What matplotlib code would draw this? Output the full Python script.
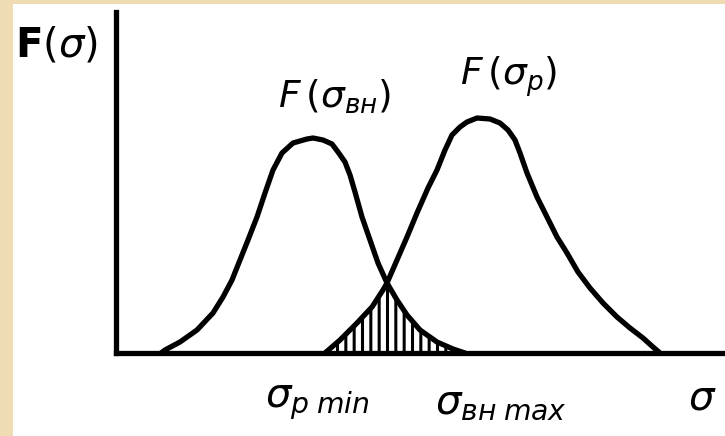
import matplotlib.pyplot as plt
import numpy as np
from matplotlib.patches import Polygon, Rectangle

# stress axis (sigma) and density F(sigma)
load_sigma = [45, 49, 64, 81, 97, 107, 116, 124, 132, 141, 149, 157, 166,
              177, 191, 197, 207, 216, 222, 229, 234, 239, 246, 254, 262,
              271, 281, 291, 304, 321, 337, 349]
load_f = [0, 3, 11, 23, 40, 56, 73, 93, 113, 136, 160, 183, 200,
          210, 214, 215, 213, 209, 201, 191, 178, 161, 136, 113, 90,
          70, 53, 38, 23, 11, 4, 0]

strength_sigma = [209, 224, 241, 256, 267, 271, 281, 291, 301, 312, 321, 329,
                  336, 344, 351, 361, 374, 384, 392, 399, 404, 411, 421, 431,
                  441, 451, 462, 474, 487, 501, 514, 527, 537, 544]
strength_f = [0, 13, 30, 46, 63, 70, 93, 116, 140, 165, 183, 203,
              218, 226, 231, 235, 234, 230, 223, 213, 200, 180, 156, 136,
              116, 100, 81, 65, 50, 36, 25, 15, 6, 0]

LW = 3.8
BEIGE = "#efdcb3"

plt.rcParams["mathtext.fontset"] = "dejavusans"
plt.rcParams["hatch.linewidth"] = 2.2

fig = plt.figure(figsize=(7.25, 4.36), dpi=100, facecolor=BEIGE)
fig.add_artist(Rectangle((13 / 725, 0), 1, 1 - 4 / 436,
                         transform=fig.transFigure, facecolor="white",
                         edgecolor="none", zorder=0))

ax = fig.add_axes((116 / 725, 83 / 436, 609 / 725, 341 / 436))
ax.set_facecolor("none")
ax.set_xlim(0, 609)
ax.set_ylim(0, 341)
ax.set_xticks([])
ax.set_yticks([])
for side in ("top", "right"):
    ax.spines[side].set_visible(False)
for side in ("left", "bottom"):
    ax.spines[side].set_linewidth(LW)
    ax.spines[side].set_capstyle("projecting")

for xs, ys in ((load_sigma, load_f), (strength_sigma, strength_f)):
    ax.plot(xs, ys, color="black", lw=LW, solid_joinstyle="round",
            solid_capstyle="round", clip_on=False)

# overlap zone: rising side of strength curve up to the crossing,
# then the falling tail of the load curve
i = load_sigma.index(271)
k = strength_sigma.index(271)
zone = list(zip(strength_sigma[:k + 1], strength_f[:k + 1])) + \
    list(zip(load_sigma[i:], load_f[i:]))
ax.add_patch(Polygon(np.array(zone), closed=True, facecolor="none",
                     edgecolor="black", lw=0, hatch="||"))

txt = dict(fontsize=27, color="black", va="center", ha="left", clip_on=False)
ax.text(-101, 308, r"$\mathbf{F}(\sigma)$", **{**txt, "fontsize": 29})
ax.text(162, 256, r"$F\,(\sigma_{вн})$", **txt)
ax.text(344, 276, r"$F\,(\sigma_{р})$", **txt)
ax.text(149, -49, r"$\sigma_{р\;min}$", **{**txt, "fontsize": 29})
ax.text(319, -49, r"$\sigma_{вн\;max}$", **{**txt, "fontsize": 29})
ax.text(572, -45, r"$\sigma$", **{**txt, "fontsize": 29})

fig.savefig("out.png", dpi=100, facecolor=BEIGE)
